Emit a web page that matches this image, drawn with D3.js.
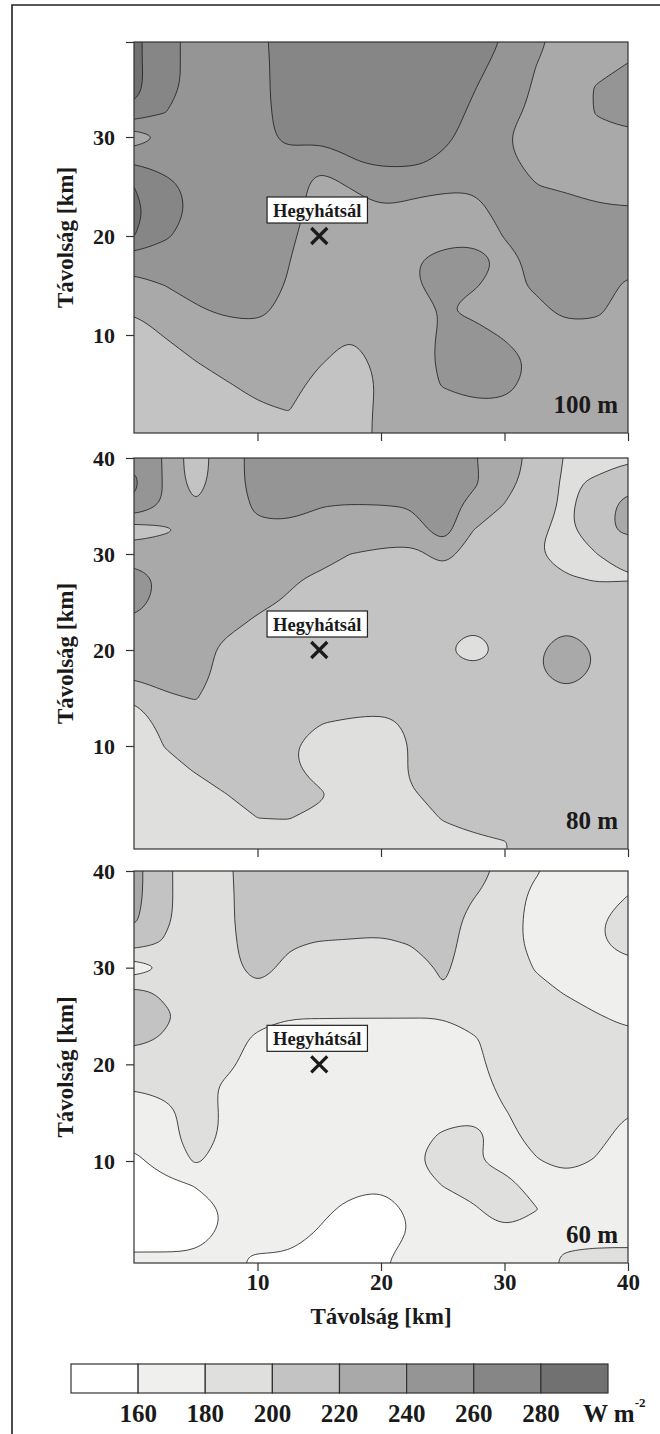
<!DOCTYPE html>
<html>
<head>
<meta charset="utf-8">
<script src="https://cdn.jsdelivr.net/npm/d3@7"></script>
<style>
body { margin: 0; background: #fff; }
text { font-family: "Liberation Serif", "Times New Roman", serif; font-weight: bold; fill: #1a1a1a; }
</style>
</head>
<body>
<svg id="fig" width="660" height="1434"></svg>
<script>
// Wind power density, W m^-2, every 2.5 km
// rows run from 40 km (top) down to 0 km, columns from 0 to 40 km
const thresholds = [160, 180, 200, 220, 240, 260, 280];
const bandColors = ['#ffffff', '#efefed', '#dfdfdd', '#c3c3c3', '#a9a9a9', '#959595', '#868686', '#717171'];
const gridStep = 2.5;
const xTicks = [10, 20, 30, 40];
const yTicks = [10, 20, 30, 40];
const station = {name: 'Hegyhátsál', x: 15, y: 20};

const field100 = [
  [285,266,254,250,257,266,270,270,270,270,268,264,259.5,244,234,232,234],
  [285,266,254,250,256,266,270,270,270,270,270,266,254,240.5,233,235,240],
  [286,266,254,250,256,266,270,270,270,270,270,261,250,238,234,241,248],
  [277,260.5,252,250,255,266,270,270,270,270,268,257,246,236,233,241,248],
  [225,244,250,252,256,263,265,268,270,270,265,252,241,234,232,236,236],
  [259,254,250,250,252,256,242,258,264,264,256,248,243,236,234,232,232],
  [280,266,254,250,250,246,236,240.5,245,244,241.5,240.5,244,240.5,238,236,236],
  [286,268,256,250,248,246,234,234,239,236,236,238,242,248,246,242,241],
  [280.5,262,254,250,250,243,232,230,230,230,232,234,240.5,250,252,250,248],
  [250,252,252,250,248,240.5,232,230,230,238,248,250,236,243,254,252,248],
  [232,240,246,248,246,239,232,230,230,238,246,241,236,242,250,250,236],
  [221,230,238,243,245,234,230,228,228,230,241,236,234,236,244,243,232],
  [212,221,226,232,233,228,224,220.5,224,230,243,246,238,232,234,234,232],
  [210,212,220.5,226,228,225,222,214,224,230,244,250,248,236,232,232,232],
  [208,208,212,219,224,226,215,212,222,232,241,246,245,234,232,232,232],
  [206,206,208,212,218,220.5,214,212,223,230,234,236,236,232,232,232,232],
  [206,206,208,210,212,214,214,213,223,230,232,232,232,232,232,232,232]
];

const field80 = [
  [256,238,208,236,243,250,252,252,252,252,252,241,232,212,199,192,197],
  [264,238,210,236,243,250,252,252,252,252,250,243,228,210,197,203,215],
  [258,238,221,234,242,246,240.5,239,239.5,241,248,234,219,210,196,212,226],
  [208,216,230,232,238,236,234,233,232,230,250,220,212,203,196,214,225],
  [234,236,234,232,232,230,228,220,216,215,226,213,210,201,194,200,205],
  [246,237,233,231,229,223,217,212,210,210,212,210,208,204,201,199,199.5],
  [246,234,232,230,224,218,212,210,210,210,210,210,210,210,212,204,204],
  [236,234,230,224,216,210,210,210,210,210,210,202,210,212,219,212,210],
  [232,230,228,215,210,210,210,210,210,210,203,180,208,218,228,219,210],
  [224,228,228,212,210,210,210,210,210,210,210,210,210,218,226,218,210],
  [201,217,221,210,210,210,210,210,207,210,210,210,210,212,216,212,210],
  [192,205,210,210,210,210,201,198,197,202,208,210,210,210,210,210,210],
  [190,200.5,205,210,210,203,190,190,190,201,208,210,210,210,210,210,210],
  [190,195,201,206,210,205,192,190,190,202,206,210,210,210,210,210,210],
  [190,190,194,200,206,206,203,190,190,199,204,208,210,210,210,210,210],
  [190,190,190,190,200,200.5,196,191,190,192,201,205,208,210,210,210,210],
  [190,190,190,190,192,194,192,192,190,190,194,197,199.5,205,210,210,210]
];

const field60 = [
  [226,205,185,197,212,212,212,212,212,212,212,206,196,182,172,170,172],
  [226,205,186,196,212,212,212,212,212,212,212,201,192,175,170,172,180],
  [223,204,187,196,212,211,208,207,207,210,211,193,190,173,168,178,188],
  [210,198,189,195,210,202,199,198.5,197,201,208,191,190,173,170,178,186],
  [166,182,190,193,208,195,194,194,193,190,203,192,190,179,174,174,176],
  [205,197,191,191,196,192,191,191,190,190,199,190,190,184,179,176,175],
  [212,203,192,190,186,181,181,181,181,181,180.5,186,189,188,185,180.5,178],
  [204,198,191,188,176,172,172,170,170,170,173,178,188,189,188,184,182],
  [190,188,190,184,172,170,170,170,170,170,170,175,188,189,189,186,184],
  [180.5,183,188,176,170,170,170,170,170,170,170,172,184,188,189,186,184],
  [172,176,186,178,170,170,170,170,170,170,170,178,179,187,188,185,180],
  [166,176,185,178,170,170,170,170,170,170,184,183,176,184,186,183,176],
  [155,170,182,174,170,170,170,170,170,178,187,181,175,179,184,179,172],
  [152,154,161,165,169,170,170,166,162,170,180.5,186,185,174,175,172,170],
  [150,152,150,162,168,168,165,155,152,163,172,178,188,181,170,170,170],
  [150,150,152,164,168,168,158,152,150,161,170,170,178,170,172,173,173],
  [163,163,163,163,158,158,156,155,158,166,170,170,170,172,183,185,185]
];

const panels = [
  {field: field100, label: '100 m', top: 42, bottom: 433, yRef: [10, 30], yPix: [335, 137], showX: false},
  {field: field80, label: '80 m', top: 458, bottom: 849, yRef: [10, 40], yPix: [746, 458], showX: false},
  {field: field60, label: '60 m', top: 871, bottom: 1263, yRef: [10, 40], yPix: [1161, 871], showX: true}
];

const svg = d3.select('#fig');
const left = 134, right = 628;
const x = d3.scaleLinear().domain([0, 40]).range([left, right]);

// outer frame
svg.append('path')
  .attr('d', 'M12,1434 V5 H660')
  .attr('fill', 'none')
  .attr('stroke', '#222')
  .attr('stroke-width', 1.6);

function contourField(field) {
  const ny = field.length, nx = field[0].length;
  // repeat the edge samples once so rings close outside the frame
  const w = nx + 2, h = ny + 2;
  const vals = new Array(w * h);
  for (let j = 0; j < h; j++) {
    for (let i = 0; i < w; i++) {
      const jj = Math.min(ny - 1, Math.max(0, j - 1));
      const ii = Math.min(nx - 1, Math.max(0, i - 1));
      vals[j * w + i] = field[jj][ii];
    }
  }
  return d3.contours().size([w, h]).thresholds(thresholds)(vals);
}

panels.forEach((p, pi) => {
  const y = d3.scaleLinear().domain(p.yRef).range(p.yPix);
  const rows = p.field.length;
  const gx = X => x(gridStep * (X - 1.5));
  const gy = Y => y((rows - 1) * gridStep - gridStep * (Y - 1.5));
  const line = d3.line().x(d => gx(d[0])).y(d => gy(d[1])).curve(d3.curveBasisClosed);

  const clipId = 'clip' + pi;
  svg.append('clipPath').attr('id', clipId)
    .append('rect')
    .attr('x', left).attr('y', p.top)
    .attr('width', right - left).attr('height', p.bottom - p.top);

  const g = svg.append('g').attr('clip-path', `url(#${clipId})`);
  g.append('rect')
    .attr('x', left).attr('y', p.top)
    .attr('width', right - left).attr('height', p.bottom - p.top)
    .attr('fill', bandColors[0]);

  const bands = contourField(p.field);
  g.selectAll('path.band')
    .data(bands)
    .enter()
    .append('path')
    .attr('class', 'band')
    .attr('fill-rule', 'evenodd')
    .attr('fill', (d, i) => bandColors[i + 1])
    .attr('stroke', '#1a1a1a')
    .attr('stroke-width', 0.8)
    .attr('d', d => d.coordinates.map(poly => poly.map(ring => line(ring.slice(0, -1))).join('')).join(''));

  // frame
  svg.append('rect')
    .attr('x', left).attr('y', p.top)
    .attr('width', right - left).attr('height', p.bottom - p.top)
    .attr('fill', 'none')
    .attr('stroke', '#333')
    .attr('stroke-width', 1.2);

  // y axis: labelled ticks inside the frame, plus a bare tick at the frame top
  const topKm = y.invert(p.top);
  const yVals = yTicks.filter(v => y(v) >= p.top - 0.5);
  if (yVals[yVals.length - 1] < topKm - 0.01) yVals.push(topKm);
  const yAxis = d3.axisLeft(y)
    .tickValues(yVals)
    .tickSize(8)
    .tickPadding(11)
    .tickFormat(d => (yTicks.includes(d) ? d : ''));
  const ya = svg.append('g').attr('transform', `translate(${left},0)`).call(yAxis);
  ya.select('.domain').remove();
  ya.selectAll('line').attr('stroke', '#333').attr('stroke-width', 1.2);
  ya.selectAll('text').attr('font-size', 22).attr('font-family', null).attr('fill', null);

  // x axis
  const xAxis = d3.axisBottom(x)
    .tickValues(xTicks)
    .tickSize(8)
    .tickFormat(d => (p.showX ? d : ''));
  const xa = svg.append('g').attr('transform', `translate(0,${p.bottom})`).call(xAxis);
  xa.select('.domain').remove();
  xa.selectAll('line').attr('stroke', '#333').attr('stroke-width', 1.2);
  xa.selectAll('text').attr('font-size', 23).attr('font-family', null).attr('fill', null)
    .attr('y', 27).attr('dy', null);

  // y title
  svg.append('text')
    .attr('transform', `translate(73,${(p.top + p.bottom) / 2}) rotate(-90)`)
    .attr('text-anchor', 'middle')
    .attr('font-size', 23)
    .text('Távolság [km]');

  // height label
  svg.append('text')
    .attr('x', 618).attr('y', p.bottom - 20)
    .attr('text-anchor', 'end')
    .attr('font-size', 25)
    .text(p.label);

  // station
  const sx = x(station.x), sy = y(station.y);
  const lab = svg.append('g');
  const t = lab.append('text')
    .attr('x', sx - 2).attr('y', sy - 19)
    .attr('text-anchor', 'middle')
    .attr('font-size', 18.5)
    .text(station.name);
  const bb = t.node().getBBox();
  lab.insert('rect', 'text')
    .attr('x', bb.x - 6).attr('y', sy - 39)
    .attr('width', bb.width + 12).attr('height', 26)
    .attr('fill', '#fff')
    .attr('stroke', '#222')
    .attr('stroke-width', 1.2);
  svg.append('path')
    .attr('d', `M${sx - 8},${sy - 8}L${sx + 8},${sy + 8}M${sx - 8},${sy + 8}L${sx + 8},${sy - 8}`)
    .attr('stroke', '#1a1a1a')
    .attr('stroke-width', 3.2);
});

svg.append('text')
  .attr('x', x(20)).attr('y', 1324)
  .attr('text-anchor', 'middle')
  .attr('font-size', 23)
  .text('Távolság [km]');

// legend
const legendScale = d3.scaleLinear().domain([140, 300]).range([71, 608]);
const legendEdges = [140].concat(thresholds, [300]);
const lg = svg.append('g');
lg.selectAll('rect')
  .data(bandColors)
  .enter()
  .append('rect')
  .attr('x', (d, i) => legendScale(legendEdges[i]))
  .attr('y', 1364)
  .attr('width', (d, i) => legendScale(legendEdges[i + 1]) - legendScale(legendEdges[i]))
  .attr('height', 29)
  .attr('fill', d => d)
  .attr('stroke', '#333')
  .attr('stroke-width', 1.2);
lg.selectAll('text')
  .data(thresholds)
  .enter()
  .append('text')
  .attr('x', d => legendScale(d))
  .attr('y', 1422)
  .attr('text-anchor', 'middle')
  .attr('font-size', 25)
  .text(d => d);
const unit = lg.append('text')
  .attr('x', 583).attr('y', 1422)
  .attr('font-size', 25);
unit.append('tspan').text('W m');
unit.append('tspan').attr('dy', -15).attr('font-size', 13).text('-2');
</script>
</body>
</html>
